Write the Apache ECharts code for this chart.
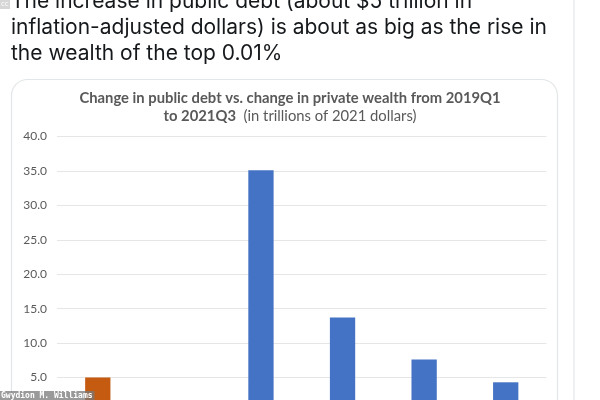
<!DOCTYPE html>
<html>
<head>
<meta charset="utf-8">
<script src="https://cdn.jsdelivr.net/npm/echarts@6/dist/echarts.min.js"></script>
<style>
html,body{margin:0;padding:0;background:#fff;overflow:hidden;width:600px;height:400px}
#chart{width:600px;height:440px}
</style>
</head>
<body>
<div id="chart"></div>
<script>
// ---- data ----
var categories = ["Public debt", "", "Private wealth (all)", "Top 1%", "Top 0.1%", "Top 0.01%"];
var debtValues = [5.0, null, null, null, null, null];
var wealthValues = [null, null, 35.1, 13.7, 7.6, 4.3];
var yTicks = { min: 0, max: 40, interval: 5 };
var tweetLines = [
  "The increase in public debt (about $5 trillion in",
  "inflation-adjusted dollars) is about as big as the rise in",
  "the wealth of the top 0.01%"
];
var titleLine1 = "Change in public debt vs. change in private wealth from 2019Q1";
var titleLine2Bold = "to 2021Q3";
var titleLine2Rest = "  (in trillions of 2021 dollars)";
var watermark = "Gwydion M. Williams";

var chart = echarts.init(document.getElementById('chart'), null, {renderer: 'canvas'});

var tweetFont = '21px Inter';
var graphics = [
  // tweet column border
  {type: 'rect', shape: {x: 573, y: -5, width: 2, height: 460}, style: {fill: '#eef1f3'}, silent: true, z: 0},
  // card
  {type: 'rect', shape: {x: 11.5, y: 79.5, width: 546, height: 400, r: 16},
   style: {fill: 'none', stroke: '#e3e6e8', lineWidth: 1.2}, silent: true, z: 0},
  // cc icon
  {type: 'rect', shape: {x: 0, y: 0, width: 10, height: 9}, style: {fill: '#d6d6d6'}, z: 5},
  {type: 'text', x: 1, y: 1, style: {text: 'cc', font: '7px DejaVu Sans', fill: '#ffffff'}, z: 6}
];
tweetLines.forEach(function (t, i) {
  graphics.push({type: 'text', x: 11, y: 12 + i * 26,
    style: {text: t, font: tweetFont, fill: '#16191c', textVerticalAlign: 'bottom'}, z: 3});
});
graphics.push({
  type: 'text', x: 0, y: 391,
  style: {text: watermark, font: 'bold 8px DejaVu Sans Mono', fill: '#ffffff',
    backgroundColor: 'rgba(120,120,120,0.75)', padding: [1, 2, 1, 1]}, z: 10
});

var option = {
  animation: false,
  backgroundColor: '#fff',
  title: {
    left: 285, textAlign: 'center', top: 84,
    text: '{b|' + titleLine1 + '}\n{b|' + titleLine2Bold + '}{n|' + titleLine2Rest + '}',
    textStyle: {
      rich: {
        b: {fontFamily: 'Lato', fontWeight: 'bold', fontSize: 14.8, color: '#595959', lineHeight: 18},
        n: {fontFamily: 'Lato', fontWeight: 'normal', fontSize: 14.8, color: '#595959', lineHeight: 18}
      }
    }
  },
  grid: {left: 57, top: 136.5, width: 489.5, height: 275.4, containLabel: false},
  xAxis: {
    type: 'category', data: categories,
    axisLine: {show: false}, axisTick: {show: false}, axisLabel: {show: false}
  },
  yAxis: {
    type: 'value', min: yTicks.min, max: yTicks.max, interval: yTicks.interval,
    axisLine: {show: false}, axisTick: {show: false},
    axisLabel: {formatter: function (v) { return v.toFixed(1); }, fontFamily: 'Lato', fontSize: 12, color: '#595959', margin: 10},
    splitLine: {lineStyle: {color: '#e6e6e6', width: 1}}
  },
  series: [
    {name: 'Public debt', type: 'bar', data: debtValues, barWidth: '31%', barGap: '-100%',
     itemStyle: {color: '#c55a11'}},
    {name: 'Private wealth', type: 'bar', data: wealthValues, barWidth: '31%',
     itemStyle: {color: '#4472c4'}}
  ],
  graphic: graphics
};
chart.setOption(option);
</script>
</body>
</html>
